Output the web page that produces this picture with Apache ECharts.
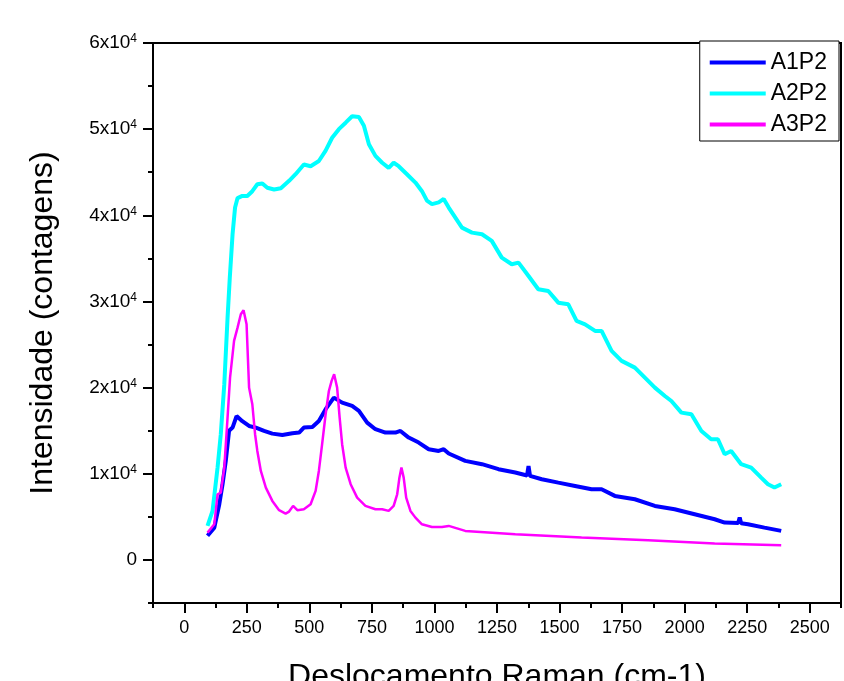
<!DOCTYPE html>
<html>
<head>
<meta charset="utf-8">
<script src="https://cdn.jsdelivr.net/npm/echarts@6/dist/echarts.min.js"></script>
<style>
  html, body { margin: 0; padding: 0; background: #fff; }
  #chart { width: 844px; height: 681px; }
</style>
</head>
<body>
<div id="chart"></div>
<script>
// tick labels
const xTickVals = [0, 250, 500, 750, 1000, 1250, 1500, 1750, 2000, 2250, 2500];
const yTickVals = [0, 10000, 20000, 30000, 40000, 50000, 60000];

// A1P2 (azul)
const a1x = [93, 120, 140, 153, 166, 179, 193, 209, 232, 259, 286, 319, 352, 392, 432, 459, 478, 512,
  538, 565, 598, 605, 631, 671, 698, 731, 764, 804, 844, 864, 897, 937, 977, 1017, 1037, 1057, 1123,
  1190, 1256, 1323, 1370, 1376, 1382, 1429, 1495, 1562, 1628, 1668, 1721, 1801, 1881, 1960, 2040,
  2120, 2160, 2214, 2220, 2226, 2253, 2319, 2386];
const a1y = [2800, 3750, 6460, 8800, 11500, 15000, 15360, 16700, 16100, 15550, 15360, 14970, 14660,
  14500, 14700, 14780, 15360, 15440, 16130, 17500, 18840, 19000, 18260, 17870, 17300, 15940, 15170,
  14780, 14780, 14970, 14200, 13620, 12850, 12650, 12850, 12350, 11500, 11110, 10530, 10140, 9800,
  10900, 9750, 9360, 8970, 8590, 8200, 8200, 7430, 7040, 6270, 5880, 5300, 4720, 4330, 4300, 4910,
  4250, 4140, 3750, 3370];

// A2P2 (ciano)
const a2x = [93, 113, 133, 146, 160, 173, 182, 193, 203, 213, 232, 252, 272, 292, 312, 332, 359, 386,
  419, 445, 478, 505, 538, 565, 591, 618, 645, 671, 698, 718, 738, 764, 791, 817, 837, 857, 890, 924,
  950, 970, 990, 1017, 1037, 1057, 1110, 1150, 1190, 1229, 1269, 1309, 1336, 1376, 1415, 1455, 1495,
  1535, 1568, 1602, 1642, 1668, 1708, 1748, 1801, 1841, 1881, 1921, 1947, 1987, 2027, 2067, 2106,
  2133, 2160, 2186, 2226, 2266, 2306, 2333, 2359, 2386];
const a2y = [3950, 5690, 10700, 14600, 20400, 28100, 32800, 37800, 40900, 42000, 42250, 42250, 42800,
  43600, 43700, 43200, 43000, 43150, 44000, 44770, 45900, 45700, 46300, 47500, 49000, 50000, 50750,
  51500, 51400, 50400, 48250, 46900, 46100, 45500, 46100, 45700, 44770, 43800, 42800, 41700, 41300,
  41500, 41900, 40900, 38570, 37990, 37800, 37030, 35090, 34320, 34510, 32960, 31420, 31220, 29860,
  29670, 27740, 27350, 26580, 26580, 24260, 23100, 22320, 21160, 20000, 19030, 18450, 17100, 16910,
  14970, 14010, 14010, 12270, 12650, 11110, 10720, 9550, 8790, 8400, 8790];

// A3P2 (magenta)
const a3x = [93, 120, 133, 146, 160, 173, 183, 199, 213, 226, 237, 249, 259, 272, 283, 292, 306, 326,
  352, 379, 405, 419, 435, 452, 478, 505, 525, 538, 551, 565, 578, 589, 599, 611, 621, 631, 645, 665,
  691, 724, 764, 791, 817, 837, 851, 860, 868, 877, 887, 904, 924, 950, 990, 1030, 1057, 1123, 1323,
  1588, 1854, 2120, 2386];
const a3y = [3170, 4140, 7620, 7810, 10720, 16520, 21160, 25420, 26960, 28510, 28980, 27360, 20000,
  18070, 14590, 12650, 10330, 8390, 6850, 5770, 5370, 5610, 6270, 5770, 5880, 6460, 8010, 10330,
  13430, 16910, 19610, 20780, 21550, 20000, 16520, 13430, 10720, 8790, 7230, 6270, 5880, 5880, 5690,
  6270, 7620, 9550, 10720, 9550, 7230, 5690, 4910, 4140, 3830, 3830, 3950, 3370, 2980, 2590, 2290,
  1900, 1700];

const pairs = (xs, ys) => xs.map((x, i) => [x, ys[i]]);
const font = "'Liberation Sans', Arial, sans-serif";

const chart = echarts.init(document.getElementById('chart'));
const option = {
  backgroundColor: '#fff',
  animation: false,
  grid: {
    left: 153, right: 3, top: 43, bottom: 78,
    outerBoundsMode: 'none',
    show: true, borderColor: '#000', borderWidth: 2
  },
  legend: {
    orient: 'vertical',
    right: 5,
    top: 41,
    icon: 'rect',
    itemWidth: 56,
    itemHeight: 4,
    itemGap: 8,
    padding: [10, 12, 5, 10],
    borderColor: '#000',
    borderWidth: 1,
    backgroundColor: '#fff',
    textStyle: { fontFamily: font, fontSize: 23, color: '#000' },
    data: ['A1P2', 'A2P2', 'A3P2']
  },
  xAxis: [
    {
      type: 'value', min: -125, max: 2625, position: 'bottom',
      name: 'Deslocamento Raman (cm-1)',
      nameLocation: 'middle', nameGap: 58,
      nameTextStyle: { fontFamily: font, fontSize: 32, color: '#000' },
      axisLine: { show: true, onZero: false, lineStyle: { color: '#000', width: 2 } },
      axisTick: { show: true, customValues: xTickVals, length: 10, lineStyle: { color: '#000', width: 2 } },
      axisLabel: {
        customValues: xTickVals, fontFamily: font, fontSize: 18, color: '#000', margin: 16,
        formatter: (v) => String(v)
      },
      splitLine: { show: false }
    },
    {
      // ticks menores
      type: 'value', min: -125, max: 2625, interval: 125, position: 'bottom',
      axisLine: { show: false, onZero: false },
      axisTick: { show: true, length: 5, lineStyle: { color: '#000', width: 2 } },
      axisLabel: { show: false },
      splitLine: { show: false }
    }
  ],
  yAxis: [
    {
      type: 'value', min: -5000, max: 60000, position: 'left',
      name: 'Intensidade (contagens)',
      nameLocation: 'middle', nameGap: 94,
      nameTextStyle: { fontFamily: font, fontSize: 32, color: '#000' },
      axisLine: { show: true, onZero: false, lineStyle: { color: '#000', width: 2 } },
      axisTick: { show: true, customValues: yTickVals, length: 10, lineStyle: { color: '#000', width: 2 } },
      axisLabel: {
        customValues: yTickVals, margin: 16, color: '#000',
        formatter: (v) => v === 0 ? '{b|0}' : '{b|' + (v / 10000) + 'x10}{s|4}',
        rich: {
          b: { fontFamily: font, fontSize: 19, color: '#000' },
          s: { fontFamily: font, fontSize: 12, color: '#000', verticalAlign: 'top', padding: [0, 0, 8, 0] }
        }
      },
      splitLine: { show: false }
    },
    {
      type: 'value', min: -5000, max: 60000, interval: 5000, position: 'left',
      axisLine: { show: false, onZero: false },
      axisTick: { show: true, length: 5, lineStyle: { color: '#000', width: 2 } },
      axisLabel: { show: false },
      splitLine: { show: false }
    }
  ],
  series: [
    {
      name: 'A1P2', type: 'line', showSymbol: false, xAxisIndex: 0, yAxisIndex: 0,
      color: '#0000ff', lineStyle: { width: 4 },
      data: pairs(a1x, a1y)
    },
    {
      name: 'A2P2', type: 'line', showSymbol: false, xAxisIndex: 0, yAxisIndex: 0,
      color: '#00ffff', lineStyle: { width: 4 },
      data: pairs(a2x, a2y)
    },
    {
      name: 'A3P2', type: 'line', showSymbol: false, xAxisIndex: 0, yAxisIndex: 0,
      color: '#ff00ff', lineStyle: { width: 2.5 },
      data: pairs(a3x, a3y)
    }
  ]
};
chart.setOption(option);
</script>
</body>
</html>
